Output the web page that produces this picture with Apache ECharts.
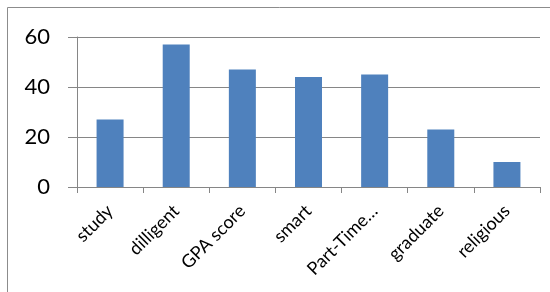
<!DOCTYPE html>
<html><head><meta charset="utf-8">
<script src="https://cdn.jsdelivr.net/npm/echarts@6/dist/echarts.min.js"></script>
<style>html,body{margin:0;padding:0;background:#fff}#c{width:550px;height:292px}</style>
</head><body><div id="c"></div>
<script>
const categories = ["study", "dilligent", "GPA score", "smart", "Part-Time…", "graduate", "religious"];
const values = [27, 57, 47, 44, 45, 23, 10];
const yTicks = [0, 20, 40, 60];

const chart = echarts.init(document.getElementById('c'), null, {renderer: 'canvas'});
chart.setOption({
  animation: false,
  graphic: [{
    type: 'rect', shape: {x: 7.5, y: 7.5, width: 600, height: 400},
    style: {fill: 'none', stroke: '#8c8c8c', lineWidth: 1}, silent: true, z: -1
  }],
  grid: {left: 77, top: 37, right: 10, bottom: 105, containLabel: false},
  xAxis: {
    type: 'category', data: categories, boundaryGap: true,
    axisLine: {lineStyle: {color: '#868686', width: 1}},
    axisTick: {show: true, length: 6, lineStyle: {color: '#868686'}, alignWithLabel: false},
    axisLabel: {rotate: 45, margin: 21, color: '#000', fontSize: 18, fontFamily: 'Lato', interval: 0}
  },
  yAxis: {
    type: 'value', min: yTicks[0], max: yTicks[yTicks.length - 1], interval: 20,
    axisLine: {show: true, lineStyle: {color: '#868686', width: 1}},
    axisTick: {show: true, inside: false, length: 9, lineStyle: {color: '#868686'}},
    splitLine: {show: true, lineStyle: {color: '#868686', width: 1}},
    axisLabel: {margin: 27, color: '#000', fontSize: 22, fontFamily: 'Lato'}
  },
  series: [{
    type: 'bar', data: values, barWidth: 27,
    itemStyle: {color: '#4F81BD'}
  }]
});
</script></body></html>
